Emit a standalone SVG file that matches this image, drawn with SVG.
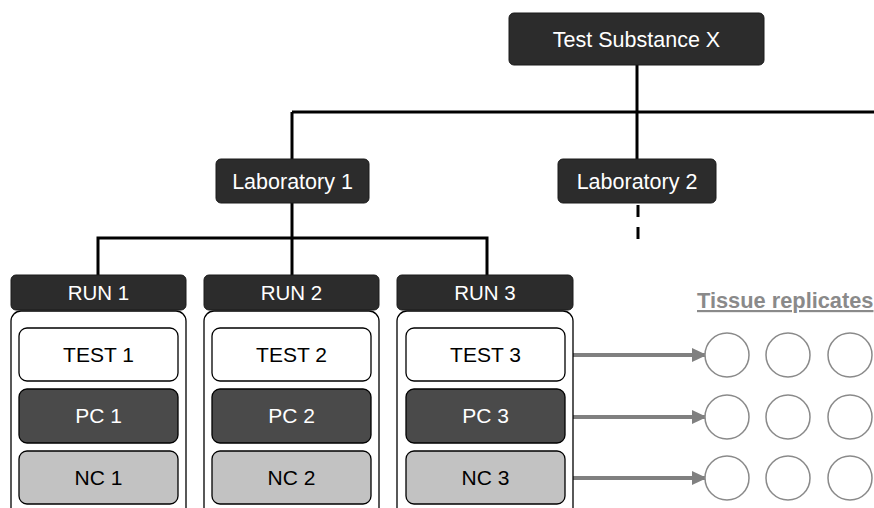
<svg xmlns="http://www.w3.org/2000/svg" width="874" height="508" viewBox="0 0 874 508">
<defs>
<style>
.dark{fill:#2c2c2c;stroke:#1a1a1a;stroke-width:1}
.wt{fill:#fff;font-family:"Liberation Sans",Arial,sans-serif;text-anchor:middle}
.bt{fill:#000;font-family:"Liberation Sans",Arial,sans-serif;text-anchor:middle}
.cont{fill:#fff;stroke:#000;stroke-width:1.3}
.test{fill:#fff;stroke:#000;stroke-width:1.3}
.pc{fill:#4a4a4a;stroke:#000;stroke-width:1.3}
.nc{fill:#c2c2c2;stroke:#000;stroke-width:1.3}
.tree{stroke:#000;stroke-width:3;fill:none}
.arr{stroke:#808080;stroke-width:4;fill:none;marker-end:url(#ah)}
.rep{fill:#fff;stroke:#8a8a8a;stroke-width:1.5}
</style>
<marker id="ah" markerWidth="15" markerHeight="14" refX="14" refY="7" orient="auto" markerUnits="userSpaceOnUse">
<path d="M0,0 L15,7 L0,14 Z" fill="#808080"/>
</marker>
</defs>
<rect width="874" height="508" fill="#fff"/>
<g id="connectors">
<line class="tree" x1="637" y1="65" x2="637" y2="159"/>
<line class="tree" x1="292" y1="112" x2="874" y2="112"/>
<line class="tree" x1="292" y1="112" x2="292" y2="159"/>
<line class="tree" x1="638" y1="205" x2="638" y2="240" stroke-dasharray="12 10"/>
<line class="tree" x1="292" y1="203" x2="292" y2="238"/>
<polyline class="tree" points="98,275 98,238 487,238 487,275"/>
<line class="tree" x1="292" y1="238" x2="292" y2="275"/>
<line class="arr" x1="566" y1="355" x2="706" y2="355"/>
<line class="arr" x1="566" y1="417" x2="706" y2="417"/>
<line class="arr" x1="566" y1="478" x2="706" y2="478"/>
</g>
<g id="test-substance">
<rect class="dark" x="509" y="13" width="255" height="52" rx="5"/>
<text class="wt" x="636.5" y="46.5" font-size="21.5">Test Substance X</text>
</g>
<g id="lab1">
<rect class="dark" x="216" y="159" width="153" height="44" rx="5"/>
<text class="wt" x="292.5" y="188.5" font-size="21.5">Laboratory 1</text>
</g>
<g id="lab2">
<rect class="dark" x="558" y="159" width="158" height="44" rx="5"/>
<text class="wt" x="637" y="188.5" font-size="21.5">Laboratory 2</text>
</g>
<g id="run1">
<rect class="dark" x="11" y="275" width="175" height="35" rx="5"/>
<text class="wt" x="98.5" y="300" font-size="20.5">RUN 1</text>
<rect class="cont" x="11" y="311" width="175" height="210" rx="10"/>
<rect class="test" x="19" y="328" width="159" height="53" rx="8"/>
<text class="bt" x="98.5" y="362" font-size="21">TEST 1</text>
<rect class="pc" x="19" y="389" width="159" height="54" rx="8"/>
<text class="wt" x="98.5" y="423" font-size="21">PC 1</text>
<rect class="nc" x="19" y="451" width="159" height="53" rx="8"/>
<text class="bt" x="98.5" y="485" font-size="21">NC 1</text>
</g>
<g id="run2">
<rect class="dark" x="204" y="275" width="175" height="35" rx="5"/>
<text class="wt" x="291.5" y="300" font-size="20.5">RUN 2</text>
<rect class="cont" x="204" y="311" width="175" height="210" rx="10"/>
<rect class="test" x="212" y="328" width="159" height="53" rx="8"/>
<text class="bt" x="291.5" y="362" font-size="21">TEST 2</text>
<rect class="pc" x="212" y="389" width="159" height="54" rx="8"/>
<text class="wt" x="291.5" y="423" font-size="21">PC 2</text>
<rect class="nc" x="212" y="451" width="159" height="53" rx="8"/>
<text class="bt" x="291.5" y="485" font-size="21">NC 2</text>
</g>
<g id="run3">
<rect class="dark" x="397" y="275" width="176" height="35" rx="5"/>
<text class="wt" x="485" y="300" font-size="20.5">RUN 3</text>
<rect class="cont" x="397" y="311" width="176" height="210" rx="10"/>
<rect class="test" x="406" y="328" width="159" height="53" rx="8"/>
<text class="bt" x="485.5" y="362" font-size="21">TEST 3</text>
<rect class="pc" x="406" y="389" width="159" height="54" rx="8"/>
<text class="wt" x="485.5" y="423" font-size="21">PC 3</text>
<rect class="nc" x="406" y="451" width="159" height="53" rx="8"/>
<text class="bt" x="485.5" y="485" font-size="21">NC 3</text>
</g>
<g id="tissue-replicates">
<text x="697" y="308" font-family="Liberation Sans,Arial,sans-serif" font-weight="bold" font-size="21.8" fill="#8a8a8a" text-decoration="underline">Tissue replicates</text>
<circle class="rep" cx="727" cy="355" r="22"/>
<circle class="rep" cx="788" cy="355" r="22"/>
<circle class="rep" cx="850" cy="355" r="22"/>
<circle class="rep" cx="727" cy="417" r="22"/>
<circle class="rep" cx="788" cy="417" r="22"/>
<circle class="rep" cx="850" cy="417" r="22"/>
<circle class="rep" cx="727" cy="478" r="22"/>
<circle class="rep" cx="788" cy="478" r="22"/>
<circle class="rep" cx="850" cy="478" r="22"/>
</g>
</svg>
